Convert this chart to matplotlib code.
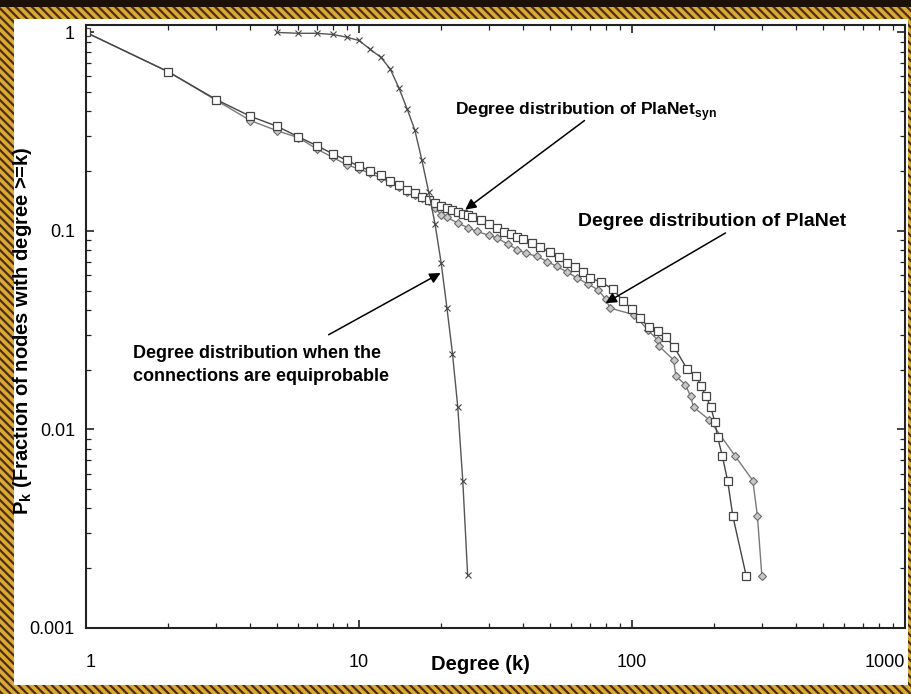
import matplotlib
matplotlib.use("Agg")
import matplotlib.pyplot as plt
from matplotlib.patches import Rectangle
from matplotlib.ticker import LogLocator, NullFormatter, FixedLocator, FixedFormatter

plt.rcParams['font.family'] = ['Liberation Sans', 'DejaVu Sans']
plt.rcParams['mathtext.fontset'] = 'custom'
plt.rcParams['mathtext.rm'] = 'Liberation Sans'
plt.rcParams['mathtext.bf'] = 'Liberation Sans:bold'
plt.rcParams['hatch.linewidth'] = 1.6

# equiprobable connections (random graph)
deg_equi = [5, 6, 7, 8, 9, 10, 11, 12, 13, 14, 15, 16, 17, 18, 19, 20, 21, 22, 23, 24, 25]
pk_equi = [1.0, 0.99, 0.99, 0.977, 0.947, 0.911, 0.821, 0.751, 0.656, 0.526, 0.412,
           0.324, 0.227, 0.157, 0.108, 0.0689, 0.0408, 0.0241, 0.0130, 0.0055, 0.00185]

# PlaNet_syn
deg_syn = [1, 2, 3, 4, 5, 6, 7, 8, 9, 10, 11, 12, 13, 14, 15, 16, 17, 18, 19, 20,
           21, 22, 23, 24, 25, 26, 28, 30, 32, 34, 36, 38, 40, 43, 46, 50, 54, 58,
           62, 66, 70, 77, 85, 93, 100, 107, 115, 124, 133, 143, 159, 172, 179, 186,
           194, 201, 206, 214, 224, 234, 262]
pk_syn = [1.0, 0.634, 0.459, 0.378, 0.337, 0.298, 0.269, 0.245, 0.227, 0.212, 0.201,
          0.191, 0.178, 0.171, 0.161, 0.155, 0.148, 0.144, 0.139, 0.134,
          0.130, 0.127, 0.125, 0.122, 0.120, 0.118, 0.114, 0.109, 0.104, 0.099, 0.096,
          0.093, 0.091, 0.087, 0.083, 0.078, 0.074, 0.069, 0.066, 0.062, 0.058,
          0.0553, 0.0510, 0.0442, 0.0405, 0.0364, 0.0328, 0.0315, 0.0292, 0.0259,
          0.0202, 0.0185, 0.0166, 0.01477, 0.01305, 0.01096, 0.00914, 0.00739,
          0.00553, 0.00367, 0.00183]

# PlaNet
deg_pla = [1, 2, 3, 4, 5, 6, 7, 8, 9, 10, 11, 12, 13, 14, 15, 16, 17, 18,
           19, 20, 21, 23, 25, 27, 30, 32, 35, 38, 41, 45, 49, 53, 58, 63, 69, 75,
           80, 83, 102, 114, 124, 126, 142, 145, 157, 164, 168, 192, 238, 277, 288, 299]
pk_pla = [1.0, 0.634, 0.455, 0.360, 0.320, 0.295, 0.259, 0.235, 0.216, 0.205, 0.195,
          0.185, 0.175, 0.167, 0.158, 0.152, 0.146, 0.141,
          0.130, 0.121, 0.117, 0.1097, 0.104, 0.0995, 0.095, 0.0922, 0.086, 0.0805,
          0.077, 0.0745, 0.070, 0.0663, 0.062, 0.0579, 0.054, 0.0506,
          0.0455, 0.0409, 0.0378, 0.0318, 0.0283, 0.0262, 0.0224, 0.0185, 0.0168,
          0.01466, 0.01296, 0.01118, 0.00739, 0.00553, 0.00367, 0.00183]

W, H = 912, 694
fig = plt.figure(figsize=(W / 100, H / 100), dpi=100)
fig.patch.set_facecolor('#d09a2a')

# hatched frame, dark strip on top, white panel
fig.add_artist(Rectangle((0, 0), 1, 1, transform=fig.transFigure, facecolor='#dba735',
                         edgecolor='#4a3008', hatch='\\\\\\\\', lw=0, zorder=-10))
fig.add_artist(Rectangle((0, 1 - 7 / H), 1, 7 / H, transform=fig.transFigure,
                         facecolor='#1c1108', lw=0, zorder=-9))
fig.add_artist(Rectangle((14 / W, 9 / H), (908 - 14) / W, (685 - 19) / H,
                         transform=fig.transFigure, facecolor='white', lw=0, zorder=-8))

ax = fig.add_axes([86 / W, 66 / H, 819 / W, 603 / H])
ax.set_facecolor('white')

ax.plot(deg_pla, pk_pla, color='#7a7a7a', lw=1.0, marker='D', ms=3.6,
        mfc='#c8c8c8', mec='#6a6a6a', mew=0.8)
ax.plot(deg_syn, pk_syn, color='#444444', lw=1.0, marker='s', ms=5.3,
        mfc='white', mec='#444444', mew=0.9)
ax.plot(deg_equi, pk_equi, color='#555555', lw=1.0, marker='x', ms=5,
        mec='#444444', mew=0.8)

ax.set_xscale('log')
ax.set_yscale('log')
ax.set_xlim(1, 1000)
ax.set_ylim(0.001, 1.09)

for s in ax.spines.values():
    s.set_linewidth(1.5)
    s.set_color('#222222')

ax.tick_params(which='both', direction='in', top=True, right=True, color='#222222')
ax.tick_params(which='major', length=6, width=1.2, labelsize=13)
ax.tick_params(which='minor', length=3.5, width=0.9)
ax.tick_params(axis='x', pad=19)
ax.tick_params(axis='y', pad=8)

xticks = [1, 10, 100, 1000]
ax.xaxis.set_major_locator(FixedLocator(xticks))
ax.xaxis.set_major_formatter(FixedFormatter(['1', '10', '100', '1000']))
ax.xaxis.set_minor_locator(LogLocator(base=10, subs=range(2, 10)))
ax.xaxis.set_minor_formatter(NullFormatter())
yticks = [0.001, 0.01, 0.1, 1]
ax.yaxis.set_major_locator(FixedLocator(yticks))
ax.yaxis.set_major_formatter(FixedFormatter(['0.001', '0.01', '0.1', '1']))
ax.yaxis.set_minor_locator(LogLocator(base=10, subs=range(2, 10)))
ax.yaxis.set_minor_formatter(NullFormatter())

xl = ax.get_xticklabels()
xl[0].set_ha('left')
xl[-1].set_ha('right')

ax.set_xlabel('Degree (k)', fontsize=14.5, fontweight='bold')
ax.xaxis.set_label_coords(0.482, -0.061)
ax.xaxis.label.set_va('center')
ax.set_ylabel(r'P$_\mathbf{k}$ (Fraction of nodes with degree >=k)', fontsize=14.5,
              fontweight='bold')
ax.yaxis.set_label_coords(-0.078, 0.4925)
ax.yaxis.label.set_va('center')

arrow = dict(arrowstyle='-|>', color='black', lw=1.1, mutation_scale=16,
             shrinkA=0, shrinkB=0)
ax.annotate('', xy=(24.5, 0.128), xytext=(67, 0.36), arrowprops=arrow)
ax.annotate('', xy=(80, 0.0433), xytext=(220, 0.0977), arrowprops=arrow)
ax.annotate('', xy=(19.9, 0.0614), xytext=(7.74, 0.030), arrowprops=arrow)

tkw = dict(fontweight='bold', va='center', ha='left')
ax.text(22.5, 0.40, r'Degree distribution of PlaNet$_\mathbf{syn}$', fontsize=12.5, **tkw)
ax.text(63.2, 0.111, 'Degree distribution of PlaNet', fontsize=14, **tkw)
ax.text(1.49, 0.0212, 'Degree distribution when the\nconnections are equiprobable',
        fontsize=13, linespacing=1.45, **tkw)

fig.savefig('out.png', dpi=100, facecolor=fig.get_facecolor())
